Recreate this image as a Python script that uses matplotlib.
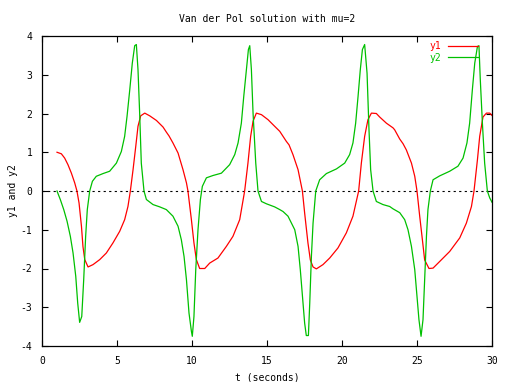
import matplotlib
matplotlib.use("Agg")
import matplotlib.pyplot as plt

# values
t1 = [1.0, 1.29, 1.51, 1.73, 1.96, 2.18, 2.33, 2.47, 2.63, 2.73, 2.85, 3.07, 3.4, 3.85,
      4.29, 4.73, 5.18, 5.51, 5.73, 5.89, 6.07, 6.25, 6.4, 6.58, 6.85, 7.18, 7.63, 8.07,
      8.29, 8.47, 8.73, 9.07, 9.4, 9.63, 9.73, 9.96, 10.13, 10.29, 10.51, 10.85, 11.18,
      11.73, 12.29, 12.73, 13.18, 13.51, 13.73, 13.91, 14.07, 14.29, 14.63, 15.07, 15.51,
      15.85, 16.07, 16.29, 16.47, 16.73, 17.07, 17.36, 17.51, 17.73, 17.89, 18.07, 18.29,
      18.73, 19.18, 19.73, 20.29, 20.73, 21.11, 21.29, 21.51, 21.73, 21.96, 22.29, 22.51,
      22.96, 23.4, 23.51, 23.85, 24.07, 24.29, 24.47, 24.63, 24.85, 25.0, 25.18, 25.36,
      25.51, 25.8, 26.07, 26.51, 27.18, 27.85, 28.29, 28.63, 28.8, 29.03, 29.18, 29.4,
      29.63, 29.85, 30.0]
y1 = [1.0, 0.96, 0.85, 0.68, 0.46, 0.21, 0.0, -0.31, -0.91, -1.43, -1.77, -1.96, -1.90, -1.77,
      -1.60, -1.34, -1.04, -0.74, -0.40, 0.0, 0.55, 1.15, 1.67, 1.94, 2.01, 1.94, 1.82, 1.65,
      1.52, 1.42, 1.24, 0.98, 0.55, 0.21, 0.0, -0.74, -1.34, -1.77, -2.0, -2.0, -1.86,
      -1.73, -1.43, -1.17, -0.74, 0.0, 0.72, 1.41, 1.80, 2.01, 1.97, 1.84, 1.67,
      1.54, 1.41, 1.28, 1.19, 0.94, 0.55, 0.0, -0.57, -1.34, -1.78, -1.96, -2.01,
      -1.90, -1.73, -1.47, -1.08, -0.65, 0.0, 0.72, 1.41, 1.84, 2.01, 2.0, 1.91,
      1.75, 1.63, 1.58, 1.34, 1.22, 1.06, 0.88, 0.72, 0.38, 0.0, -0.65, -1.26,
      -1.78, -2.0, -1.99, -1.82, -1.56, -1.21, -0.83, -0.40, 0.0, 0.81, 1.41, 1.91,
      2.01, 2.01, 1.95]

t2 = [1.0, 1.22, 1.45, 1.67, 1.89, 2.07, 2.25, 2.38, 2.51, 2.65, 2.78, 2.91, 3.02, 3.18,
      3.36, 3.62, 4.07, 4.51, 4.96, 5.29, 5.51, 5.67, 5.85, 6.02, 6.18, 6.29, 6.4, 6.51,
      6.62, 6.8, 6.96, 7.4, 7.85, 8.29, 8.47, 8.73, 9.07, 9.29, 9.47, 9.63, 9.8, 9.96,
      10.02, 10.13, 10.25, 10.4, 10.56, 10.69, 10.96, 11.4, 11.96, 12.51, 12.85, 13.07,
      13.29, 13.45, 13.63, 13.76, 13.85, 13.96, 14.07, 14.25, 14.4, 14.63, 14.96, 15.51,
      15.85, 16.07, 16.4, 16.85, 17.07, 17.22, 17.4, 17.51, 17.62, 17.76, 17.85, 17.96,
      18.07, 18.25, 18.51, 18.96, 19.63, 20.18, 20.51, 20.73, 20.91, 21.07, 21.22, 21.36,
      21.51, 21.67, 21.8, 21.91, 22.07, 22.29, 22.73, 23.18, 23.4, 23.85, 24.18, 24.4,
      24.63, 24.85, 25.0, 25.13, 25.27, 25.4, 25.51, 25.63, 25.73, 25.89, 26.07, 26.51,
      27.18, 27.73, 28.07, 28.33, 28.51, 28.69, 28.85, 29.03, 29.13, 29.22, 29.36, 29.51,
      29.69, 29.85, 30.0]
y2 = [0.0, -0.22, -0.48, -0.78, -1.17, -1.60, -2.20, -2.89, -3.39, -3.24, -2.29, -1.17, -0.48, 0.0,
      0.25, 0.38, 0.45, 0.51, 0.72, 1.02, 1.41, 1.93, 2.61, 3.30, 3.75, 3.78, 3.13, 2.01,
      0.72, 0.0, -0.22, -0.35, -0.41, -0.48, -0.55, -0.65, -0.91, -1.26, -1.69, -2.29, -3.15, -3.62,
      -3.75, -3.24, -2.03, -1.0, -0.22, 0.12, 0.34, 0.40, 0.46, 0.68, 0.94, 1.24,
      1.75, 2.44, 3.13, 3.65, 3.75, 3.13, 2.01, 0.72, 0.0, -0.27, -0.33, -0.41,
      -0.48, -0.53, -0.65, -1.0, -1.43, -2.03, -2.89, -3.41, -3.73, -3.73, -2.89, -1.69,
      -0.83, 0.0, 0.29, 0.45, 0.57, 0.72, 0.94, 1.24, 1.75, 2.44, 3.13, 3.65,
      3.78, 3.04, 1.58, 0.55, 0.0, -0.27, -0.35, -0.40, -0.46, -0.56, -0.74, -1.0,
      -1.43, -2.03, -2.72, -3.32, -3.75, -3.32, -2.29, -1.17, -0.48, 0.0, 0.29, 0.39,
      0.51, 0.64, 0.85, 1.24, 1.75, 2.61, 3.30, 3.73, 3.75, 2.87, 1.75, 0.72,
      0.0, -0.18, -0.29]

x_ticks = [0, 5, 10, 15, 20, 25, 30]
y_ticks = [-4, -3, -2, -1, 0, 1, 2, 3, 4]

plt.rcParams['font.family'] = ['DejaVu Sans Mono']
plt.rcParams['font.size'] = 7
plt.rcParams['axes.unicode_minus'] = False

fig = plt.figure(figsize=(5.1, 3.82), dpi=100)
ax = fig.add_axes([42 / 510, 1 - 346 / 382, 450 / 510, 310 / 382])

ax.axhline(0, color='black', lw=0.8, ls=(0, (2, 3)))
ax.plot(t1, y1, color='#ff0000', lw=0.9, label='y1')
ax.plot(t2, y2, color='#00c000', lw=0.9, label='y2')

ax.set_xlim(0, 30)
ax.set_ylim(-4, 4)
ax.set_xticks(x_ticks)
ax.set_yticks(y_ticks)
ax.tick_params(direction='in', length=4, width=0.8, top=True, right=True, pad=7)
for s in ax.spines.values():
    s.set_linewidth(0.9)

ax.set_title('Van der Pol solution with mu=2', fontsize=7, pad=10)
ax.set_xlabel('t (seconds)', labelpad=5)
ax.set_ylabel('y1 and y2', labelpad=2)

leg = ax.legend(loc='upper right', bbox_to_anchor=(0.985, 1.005), frameon=False,
                markerfirst=False, handlelength=3.1, handletextpad=0.7,
                labelspacing=0.15, labelcolor='linecolor', borderaxespad=0.3)

fig.savefig('out.png', dpi=100)
